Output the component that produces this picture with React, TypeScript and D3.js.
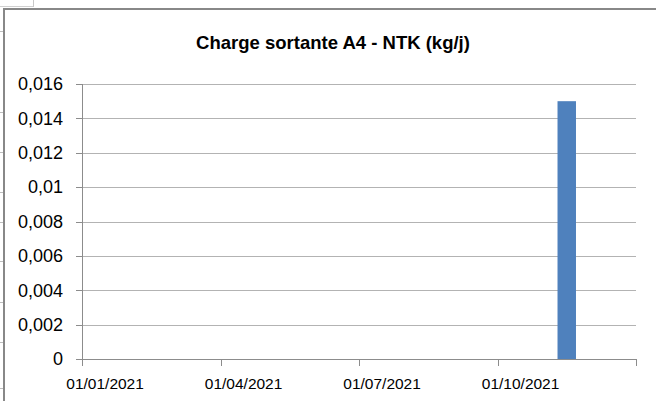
import React from 'react';
import * as d3 from 'd3';

const W = 656;
const H = 401;

// months of 2021 on the date axis (base unit: month)
const months = ['2021-01', '2021-02', '2021-03', '2021-04', '2021-05', '2021-06',
  '2021-07', '2021-08', '2021-09', '2021-10', '2021-11', '2021-12'];
const sampleMonths = ['2021-11'];
const sampleValues = [0.015];
const tickMonths = ['2021-01', '2021-04', '2021-07', '2021-10'];
const tickLabels = ['01/01/2021', '01/04/2021', '01/07/2021', '01/10/2021'];
const yMax = 0.016;
// spreadsheet row lines peeking out on the left
const rowLines = [31, 112, 152, 192, 222, 261, 302, 342, 388];

const frLocale = d3.formatLocale({ decimal: ',', thousands: ' ', grouping: [3], currency: ['', ' €'] });
const fmt = frLocale.format('~g');

const App = () => {
  const margin = { top: 84, right: 20, bottom: 42, left: 82 };
  const x0 = margin.left;
  const x1 = W - margin.right;
  const y0 = H - margin.bottom;
  const y1 = margin.top;

  const xBand = d3.scaleBand<string>()
    .domain(months)
    .range([x0, x1])
    .paddingInner(0.6)
    .paddingOuter(0.3);

  const xIdx = d3.scaleLinear().domain([0, months.length]).range([x0, x1]);

  const yScale = d3.scaleLinear().domain([0, yMax]).range([y0, y1]);
  const yTicks = yScale.ticks(8);

  const tickIdx = [...tickMonths.map(m => months.indexOf(m)), months.length];

  const font = 'Liberation Sans, Arial, sans-serif';

  return (
    <svg width={W} height={H} style={{ position: 'absolute', left: 0, top: 0, background: '#fff' }}>
      <rect x={0} y={0} width={W} height={H} fill="#fff" />
      {/* sheet leftovers */}
      <line x1={0} x2={33} y1={6.5} y2={6.5} stroke="#d0d0d0" />
      <line x1={33.5} x2={33.5} y1={0} y2={7} stroke="#c8c8c8" />
      {rowLines.map(y => (
        <line key={y} x1={0} x2={4} y1={y + 0.5} y2={y + 0.5} stroke="#bdbdbd" />
      ))}
      {/* chart frame */}
      <line x1={4} x2={W} y1={9} y2={9} stroke="#888" strokeWidth={2} />
      <line x1={4} x2={4} y1={8} y2={H} stroke="#888" strokeWidth={2} />

      <text x={333} y={49} textAnchor="middle" fontFamily={font} fontWeight="bold"
        fontSize={18.5} fill="#000">Charge sortante A4 - NTK (kg/j)</text>

      {/* gridlines */}
      {yTicks.map(t => (
        <g key={t}>
          {t > 0 && (
            <line x1={x0} x2={x1} y1={Math.round(yScale(t)) + 0.5} y2={Math.round(yScale(t)) + 0.5}
              stroke="#b3b3b3" />
          )}
          <line x1={x0 - 6} x2={x0} y1={Math.round(yScale(t)) + 0.5} y2={Math.round(yScale(t)) + 0.5}
            stroke="#8c8c8c" />
          <text x={63} y={yScale(t)} dy="0.35em" textAnchor="end" fontFamily={font}
            fontSize={18} fill="#000">{fmt(t)}</text>
        </g>
      ))}

      {/* bars */}
      {sampleMonths.map((m, i) => (
        <rect key={m} x={xBand(m)} y={yScale(sampleValues[i])} width={xBand.bandwidth()}
          height={y0 - yScale(sampleValues[i])} fill="#4f81bd" />
      ))}

      {/* axes */}
      <line x1={x0 + 0.5} x2={x0 + 0.5} y1={y1} y2={y0} stroke="#8c8c8c" />
      <line x1={x0} x2={x1} y1={y0 + 0.5} y2={y0 + 0.5} stroke="#8c8c8c" />
      {tickIdx.map(i => (
        <line key={i} x1={Math.round(xIdx(i)) + 0.5} x2={Math.round(xIdx(i)) + 0.5}
          y1={y0} y2={y0 + 7} stroke="#8c8c8c" />
      ))}
      {tickMonths.map((m, i) => (
        <text key={m} x={(xBand(m) ?? 0) + xBand.bandwidth() / 2} y={384} dy="0.35em"
          textAnchor="middle" fontFamily={font} fontSize={15.5} fill="#000">{tickLabels[i]}</text>
      ))}
    </svg>
  );
};

export default App;
